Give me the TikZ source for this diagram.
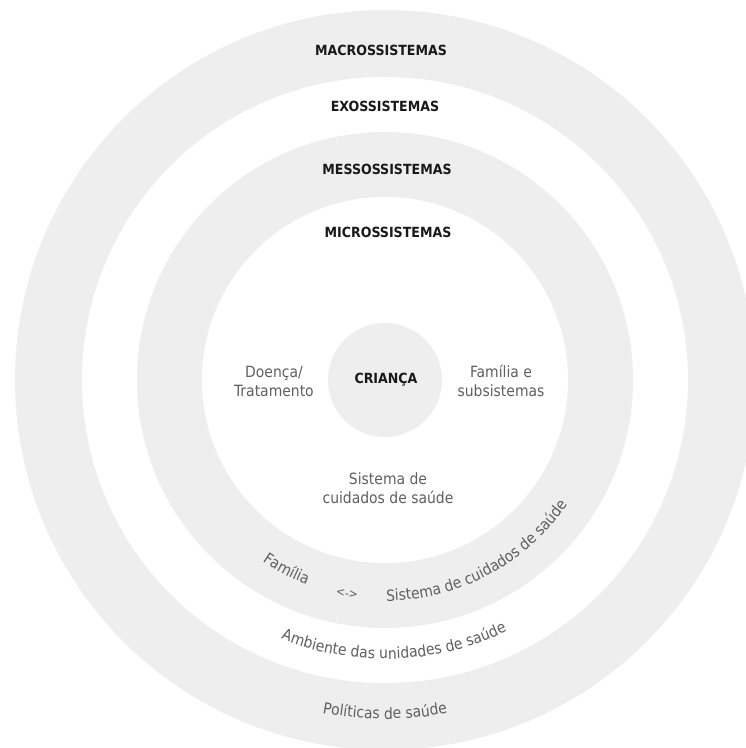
\documentclass[tikz,border=0pt]{standalone}
\usepackage{fontspec}
\setmainfont{DejaVu Sans Condensed}
\usetikzlibrary{decorations.text}
\definecolor{ringgray}{RGB}{238,238,238}
\definecolor{labelgray}{RGB}{95,95,95}
\tikzstyle{system} = [font=\bfseries\fontsize{14}{16}\selectfont, text=black!90]
\tikzstyle{context} = [font=\fontsize{15.5}{19}\selectfont, text=labelgray, align=center]
\tikzstyle{arctext} = [decorate, decoration={text along path, text align=center, text color=labelgray}]

\begin{document}
\begin{tikzpicture}[x=1pt,y=1pt]
\useasboundingbox (0,0) rectangle (746,748);
\clip (0,0) rectangle (746,748);
\coordinate (c) at (385,368);

% rings
\fill[ringgray] (c) circle (370pt);
\fill[white] (c) circle (303pt);
\fill[ringgray] (c) circle (248pt);
\fill[white] (c) circle (183pt);
\fill[ringgray] (c) circle (57pt);

\node (macro) [system] at (381,698) {MACROSSISTEMAS};
\node (exo) [system] at (385,642) {EXOSSISTEMAS};
\node (meso) [system] at (387,579) {MESSOSSISTEMAS};
\node (micro) [system] at (388,516) {MICROSSISTEMAS};
\node (crianca) [system] at (386,368) {CRIANÇA};

\node (doenca) [context] at (274,367) {Doença/\\Tratamento};
\node (familia) [context] at (501,367) {Família e\\subsistemas};
\node (cuidados) [context] at (388,260) {Sistema de\\cuidados de saúde};
\node (troca) [context, font=\fontsize{12}{14}\selectfont, rotate=-8] at (347,154) {<->};

% curved labels
\path[arctext, decoration={text={|\fontsize{15.5}{17}\selectfont|Família}}]
  (c) ++(231:219pt) arc[start angle=231, end angle=254, radius=219pt];
\path[arctext, decoration={text={|\fontsize{15.5}{17}\selectfont|Sistema de cuidados de saúde}}]
  (c) ++(262:221pt) arc[start angle=262, end angle=334, radius=221pt];
\path[arctext, decoration={text={|\fontsize{15.5}{17}\selectfont|Ambiente das unidades de saúde}}]
  (c) ++(241:279pt) arc[start angle=241, end angle=303, radius=279pt];
\path[arctext, decoration={text={|\fontsize{15.5}{17}\selectfont|Políticas de saúde}}]
  (c) ++(250:339pt) arc[start angle=250, end angle=290, radius=339pt];

\end{tikzpicture}
\end{document}
